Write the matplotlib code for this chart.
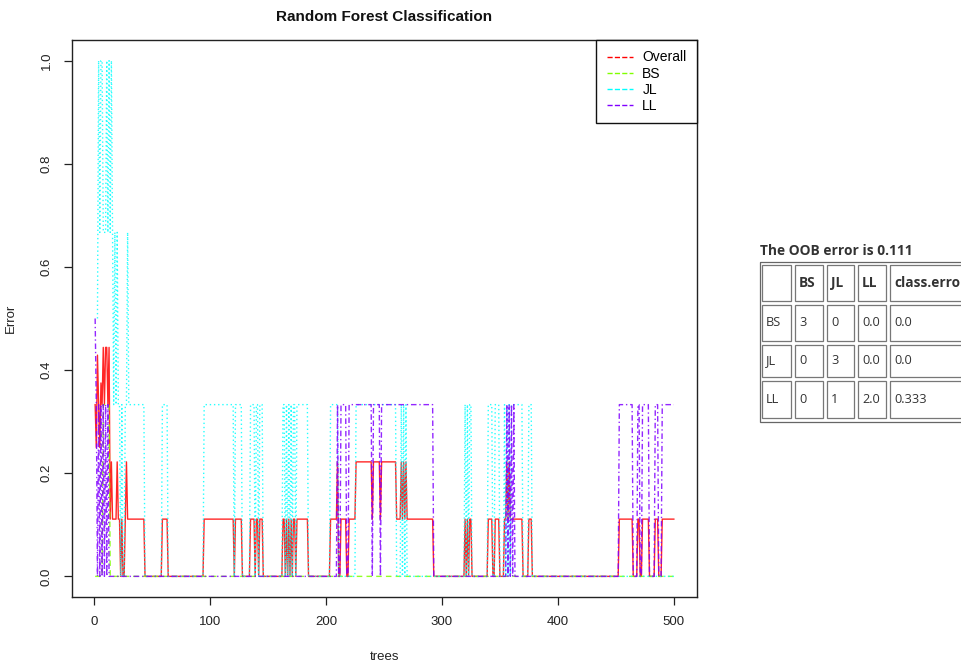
import numpy as np
import matplotlib
matplotlib.use("Agg")
import matplotlib.pyplot as plt
from matplotlib.lines import Line2D
from matplotlib.patches import Rectangle

# ---------------- data (piecewise-constant runs) ----------------
n_trees = 500

overall_start = [1, 2, 3, 4, 5, 6, 7, 8, 9, 10, 12, 13, 14, 15, 16, 20, 21, 23, 24, 25, 27, 28, 29, 44,
                 59, 64, 95, 121, 122, 128, 135, 139, 140, 142, 143, 146,
                 163, 165, 166, 167, 168, 169, 170, 171, 172, 174, 175, 185,
                 204, 210, 211, 213, 218, 220, 226, 240, 241, 247, 248, 261, 265, 266, 267, 268, 269, 270, 293,
                 320, 321, 322, 323, 324, 326, 340, 344, 346, 350, 354, 356, 357, 358, 359, 370, 375, 378,
                 453, 465, 469, 471, 473, 479, 484, 487, 490]
overall_val = [0.333, 0.25, 0.429, 0.333, 0.25, 0.375, 0.333, 0.444, 0.333, 0.444, 0.333, 0.444, 0.111, 0.222, 0.111, 0.222, 0.111, 0.0, 0.111, 0.0, 0.111, 0.222, 0.111, 0.0,
               0.111, 0.0, 0.111, 0.0, 0.111, 0.0, 0.111, 0.0, 0.111, 0.0, 0.111, 0.0,
               0.111, 0.0, 0.111, 0.0, 0.111, 0.0, 0.111, 0.0, 0.111, 0.0, 0.111, 0.0,
               0.111, 0.222, 0.0, 0.111, 0.0, 0.111, 0.222, 0.111, 0.222, 0.111, 0.222, 0.111, 0.222, 0.111, 0.222, 0.111, 0.222, 0.111, 0.0,
               0.111, 0.0, 0.111, 0.0, 0.111, 0.0, 0.111, 0.0, 0.111, 0.0, 0.111, 0.222, 0.111, 0.222, 0.111, 0.0, 0.111, 0.0,
               0.111, 0.0, 0.111, 0.0, 0.111, 0.0, 0.111, 0.0, 0.111]

bs_start = [1, 8, 14]
bs_val = [0.0, 0.333, 0.0]

jl_start = [3, 4, 5, 6, 8, 11, 12, 13, 14, 15, 16, 17, 18, 19, 20, 21, 23, 24, 25, 27, 29, 30, 44,
            59, 64, 95, 121, 122, 128, 135, 139, 140, 142, 143, 146,
            163, 165, 166, 167, 168, 169, 170, 171, 172, 174, 175, 185,
            204, 211, 226, 261, 265, 266, 267, 268, 269, 270,
            320, 321, 322, 323, 324, 326, 340, 344, 346, 350, 354, 355, 356, 357, 358, 359, 360, 370, 375, 378]
jl_val = [0.5, 1.0, 0.667, 1.0, 0.667, 1.0, 0.667, 1.0, 0.667, 1.0, 0.667, 0.333, 0.667, 0.333, 0.667, 0.333, 0.0, 0.333, 0.0, 0.333, 0.667, 0.333, 0.0,
          0.333, 0.0, 0.333, 0.0, 0.333, 0.0, 0.333, 0.0, 0.333, 0.0, 0.333, 0.0,
          0.333, 0.0, 0.333, 0.0, 0.333, 0.0, 0.333, 0.0, 0.333, 0.0, 0.333, 0.0,
          0.333, 0.0, 0.333, 0.0, 0.333, 0.0, 0.333, 0.0, 0.333, 0.0,
          0.333, 0.0, 0.333, 0.0, 0.333, 0.0, 0.333, 0.0, 0.333, 0.0, 0.333, 0.0, 0.333, 0.0, 0.333, 0.0, 0.333, 0.0, 0.333, 0.0]

ll_start = [1, 2, 3, 4, 5, 6, 7, 8, 9, 10, 11, 12, 13,
            210, 211, 213, 218, 220, 240, 241, 247, 248, 293,
            356, 357, 358, 359, 360, 361, 362, 363,
            453, 465, 469, 471, 473, 479, 484, 487, 490]
ll_val = [0.5, 0.333, 0.0, 0.333, 0.0, 0.333, 0.0, 0.333, 0.0, 0.333, 0.0, 0.333, 0.0,
          0.333, 0.0, 0.333, 0.0, 0.333, 0.0, 0.333, 0.0, 0.333, 0.0,
          0.333, 0.0, 0.333, 0.0, 0.333, 0.0, 0.333, 0.0,
          0.333, 0.0, 0.333, 0.0, 0.333, 0.0, 0.333, 0.0, 0.333]

series_names = ["Overall", "BS", "JL", "LL"]
series_colors = ["#FF0000", "#80FF00", "#00FFFF", "#8000FF"]
series_styles = ["-", (0, (4, 3)), (0, (1, 2)), (0, (4, 2, 1, 2))]

oob_title = "The OOB error is 0.111"
table_header = ["", "BS", "JL", "LL", "class.error"]
table_rows = [["BS", "3", "0", "0.0", "0.0"],
              ["JL", "0", "3", "0.0", "0.0"],
              ["LL", "0", "1", "2.0", "0.333"]]


def expand(starts, vals, n=n_trees):
    out = np.full(n, np.nan)
    for i, (s, v) in enumerate(zip(starts, vals)):
        e = starts[i + 1] if i + 1 < len(starts) else n + 1
        out[s - 1:e - 1] = v
    return out


trees = np.arange(1, n_trees + 1)
data = [expand(overall_start, overall_val), expand(bs_start, bs_val),
        expand(jl_start, jl_val), expand(ll_start, ll_val)]

# ---------------- figure ----------------
W, H = 962, 663
fig = plt.figure(figsize=(W / 100, H / 100), dpi=100)
fig.patch.set_facecolor("white")
plt.rcParams["font.family"] = ["Liberation Sans", "DejaVu Sans"]

ax = fig.add_axes([72 / W, 1 - 597 / H, (697 - 72) / W, (597 - 40) / H])
for y, c, ls in zip(data, series_colors, series_styles):
    ax.plot(trees, y, color=c, ls=ls, lw=1.0, alpha=0.85)

ax.set_xlim(1 - 0.04 * 499, 500 + 0.04 * 499)
ax.set_ylim(-0.04, 1.04)
ax.set_xticks([0, 100, 200, 300, 400, 500])
ax.set_yticks([0.0, 0.2, 0.4, 0.6, 0.8, 1.0])
ax.set_yticklabels(["0.0", "0.2", "0.4", "0.6", "0.8", "1.0"], rotation=90, va="center")
ax.tick_params(direction="out", length=6, width=0.9, labelsize=9.5, colors="#222222", pad=8)
for s in ax.spines.values():
    s.set_linewidth(1.0)
    s.set_color("#222222")
ax.set_xlabel("trees", fontsize=9.5, labelpad=16, color="#222222")
ax.set_ylabel("Error", fontsize=9.5, labelpad=17, color="#222222")
ax.set_title("Random Forest Classification", fontsize=11, fontweight="bold", pad=14, color="#111111")

handles = [Line2D([0], [0], color=c, ls="--", lw=1.0) for c in series_colors]
leg = ax.legend(handles, series_names, loc="upper right", bbox_to_anchor=(1.0, 1.0),
                borderaxespad=0.0, fancybox=False, framealpha=1, edgecolor="#111111",
                fontsize=10, handlelength=1.9, labelspacing=0.15, borderpad=0.75,
                handletextpad=0.65)
leg.get_frame().set_linewidth(1.0)

# ---------------- OOB table (figure pixel coordinates) ----------------
ov = fig.add_axes([0, 0, 1, 1], zorder=5)
ov.set_xlim(0, W)
ov.set_ylim(H, 0)
ov.axis("off")
ov.patch.set_alpha(0)

tfont = ["Open Sans", "DejaVu Sans"]
ov.text(760, 251, oob_title, fontsize=9.9, fontweight="bold", family=tfont,
        color="#333333", va="center", ha="left")

ov.add_patch(Rectangle((760, 262), 260, 160, fill=False, ec="#666666", lw=0.9))
col_x = [(762, 791), (795, 823), (827, 854), (858, 886), (890, 1010)]
row_y = [(265, 301), (305, 341), (345, 377), (381, 418)]
rows = [table_header] + table_rows
for r, (y0, y1) in enumerate(row_y):
    for c, (x0, x1) in enumerate(col_x):
        ov.add_patch(Rectangle((x0, y0), x1 - x0, y1 - y0, fill=False, ec="#777777", lw=0.9))
        txt = rows[r][c]
        if txt:
            ov.text(x0 + 4, (y0 + y1) / 2, txt, fontsize=9.8 if r == 0 else 9.2, family=tfont,
                    fontweight="bold" if r == 0 else "normal",
                    color="#333333", va="center", ha="left", clip_on=False)

fig.savefig("out.png", dpi=100)
